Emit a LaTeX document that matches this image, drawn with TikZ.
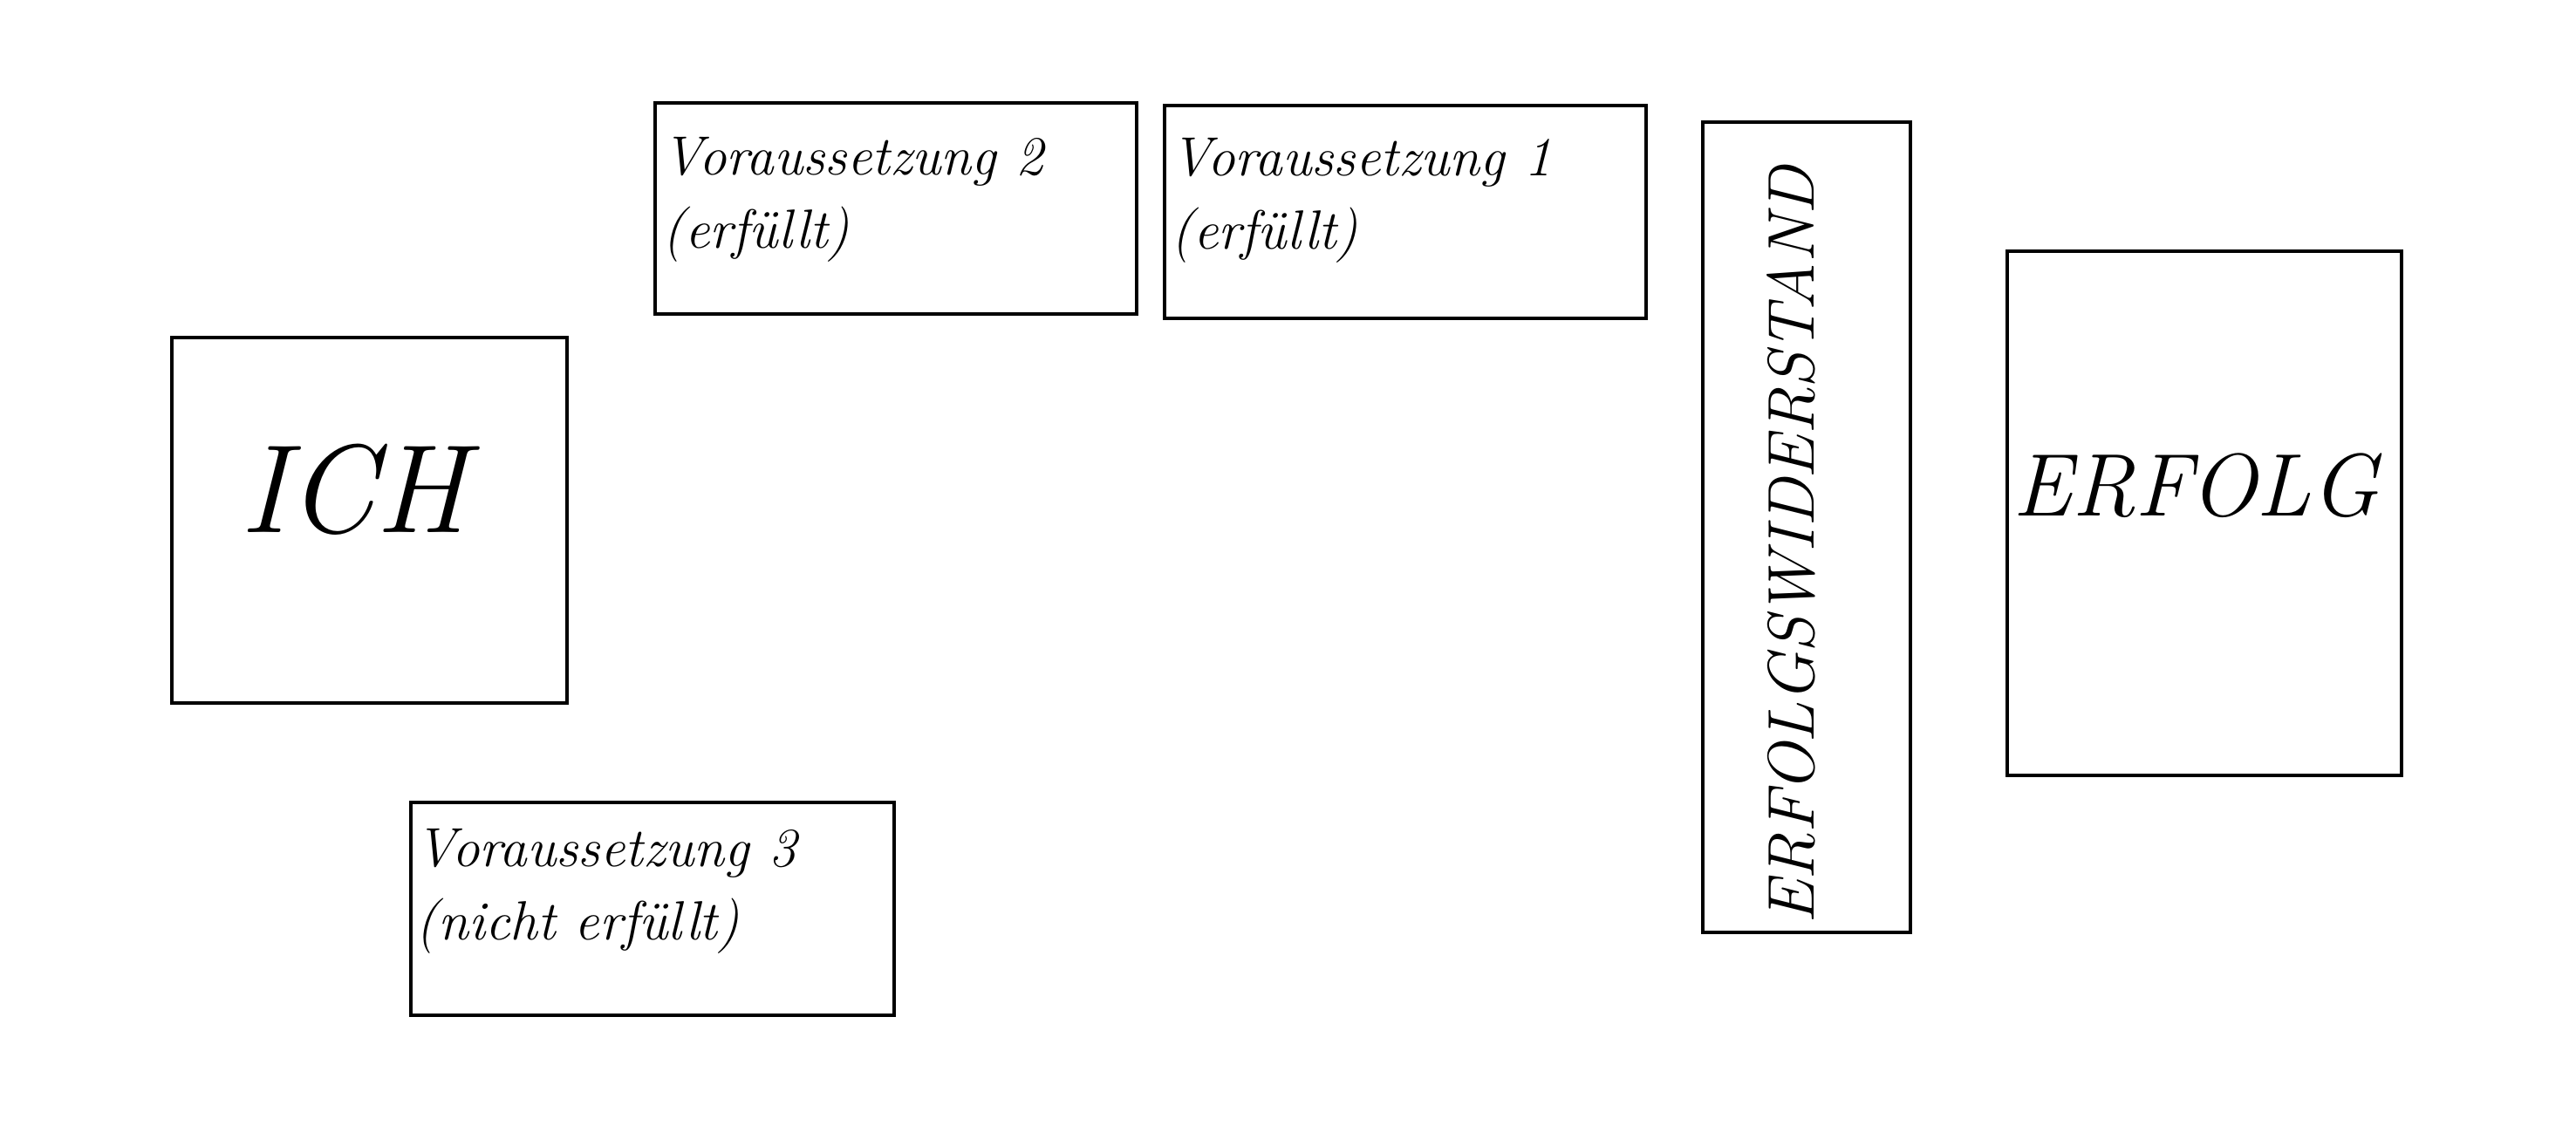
\documentclass[tikz,border=0pt]{standalone}
\usepackage{tikz}
\usetikzlibrary{positioning, calc}

\begin{document}
\begin{tikzpicture}[
    block/.style={rectangle, draw, line width=1pt, inner sep=0pt},
    txt/.style={inner sep=0pt, align=left, anchor=north west, font=\fontsize{18}{24}\selectfont\itshape},
    big/.style={inner sep=0pt, font=\itshape}
]

% Frame
\useasboundingbox (0, 0) rectangle (29.53, 12.99);

% Left side
\node[block, minimum width=4.53cm, minimum height=4.19cm] (ich) at (4.235, 7.025) {};
\node[big, font=\fontsize{41}{48}\selectfont\itshape] (ichtext) at (4.05, 7.38) {ICH};

% Conditions
\node[block, minimum width=5.52cm, minimum height=2.42cm] (v2) at (10.27, 10.60) {};
\node[txt] (v2text) at ($(v2.north west)+(0.10,-0.40)$) {Voraussetzung 2\\(erfüllt)};

\node[block, minimum width=5.52cm, minimum height=2.44cm] (v1) at (16.11, 10.56) {};
\node[txt] (v1text) at ($(v1.north west)+(0.09,-0.38)$) {Voraussetzung 1\\(erfüllt)};

\node[block, minimum width=5.54cm, minimum height=2.44cm] (v3) at (7.48, 2.57) {};
\node[txt] (v3text) at ($(v3.north west)+(0.07,-0.31)$) {Voraussetzung 3\\(nicht erfüllt)};

% Resistance
\node[block, minimum width=2.38cm, minimum height=9.29cm] (wid) at (20.71, 6.945) {};
\node[big, rotate=90, font=\fontsize{21.5}{25}\selectfont\itshape] (widtext) at (20.53, 6.74) {ERFOLGSWIDERSTAND};

% Goal
\node[big, font=\fontsize{29}{34}\selectfont\itshape] (erfolgtext) at (25.17, 7.42) {ERFOLG};
\node[block, minimum width=4.52cm, minimum height=6.01cm] (erfolg) at (25.27, 7.105) {};

\end{tikzpicture}
\end{document}
